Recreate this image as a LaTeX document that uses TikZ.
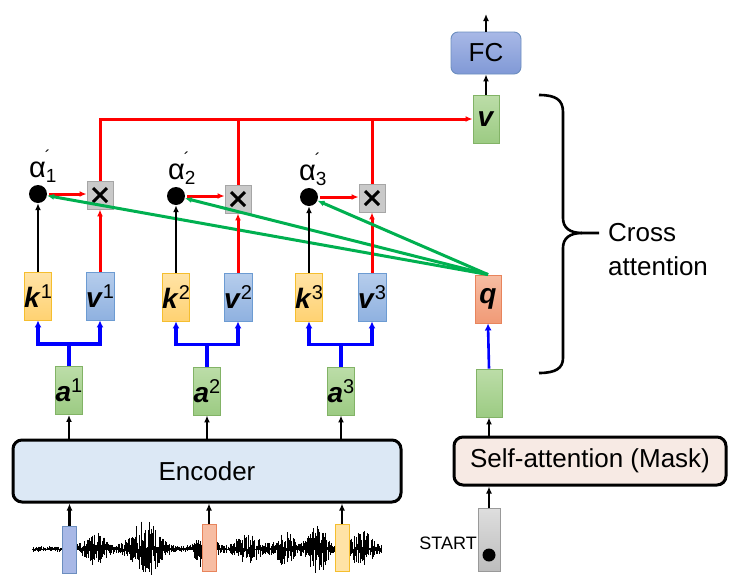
\documentclass[tikz,border=0pt]{standalone}
\usepackage{fontspec}
\setmainfont{Liberation Sans}
\usetikzlibrary{arrows.meta,positioning,calc}
\definecolor{ktop}{HTML}{FFE3A6}\definecolor{kbot}{HTML}{FFD272}\definecolor{kline}{HTML}{F5BE2E}
\definecolor{vtop}{HTML}{B6CDEC}\definecolor{vbot}{HTML}{8FB1E0}\definecolor{vline}{HTML}{6C9BD2}
\definecolor{gtop}{HTML}{BCDDA8}\definecolor{gbot}{HTML}{9CCB83}\definecolor{gline}{HTML}{82B366}
\definecolor{qtop}{HTML}{F7BDA3}\definecolor{qbot}{HTML}{F19A76}\definecolor{qline}{HTML}{E8845C}
\definecolor{ftop}{HTML}{A8B8E6}\definecolor{fbot}{HTML}{8099D6}\definecolor{fline}{HTML}{6C8EBF}
\definecolor{encfill}{HTML}{DCE8F5}\definecolor{safill}{HTML}{F7EAE4}
\definecolor{mulfill}{HTML}{C9C9C9}\definecolor{mulline}{HTML}{A6A6A6}
\definecolor{attgreen}{HTML}{00B050}
\newcommand{\vecsup}[2]{{\fontsize{28}{30}\selectfont\textbf{\textit{#1}}}\raisebox{9pt}{\fontsize{20}{20}\selectfont#2}}
\newcommand{\alab}[1]{{\fontsize{29}{29}\selectfont α}\rlap{\raisebox{15pt}{\fontsize{17}{17}\selectfont\kern-1pt´}}\raisebox{-5pt}{\fontsize{19}{19}\selectfont#1}}

\begin{document}
\begin{tikzpicture}[x=1pt,y=-1pt,font=\fontsize{26}{30}\selectfont,
vec/.style={draw,inner sep=0,minimum width=26pt,minimum height=48pt,line width=.9pt},
kbox/.style={vec,draw=kline,top color=ktop,bottom color=kbot},
vbox/.style={vec,draw=vline,top color=vtop,bottom color=vbot},
abox/.style={vec,draw=gline,top color=gtop,bottom color=gbot},
qbox/.style={vec,draw=qline,top color=qtop,bottom color=qbot},
mul/.style={draw=mulline,fill=mulfill,minimum width=26pt,minimum height=28pt,inner sep=0,line width=.9pt,
  path picture={\draw[black,line width=3pt]
    ($(path picture bounding box.center)+(-7,-7)$)--($(path picture bounding box.center)+(7,7)$)
    ($(path picture bounding box.center)+(-7,7)$)--($(path picture bounding box.center)+(7,-7)$);}},
dot/.style={circle,fill=black,inner sep=0,minimum size=18pt},
block/.style={draw,line width=3pt,rounded corners=9pt,inner sep=0},
wbar/.style={draw,line width=.9pt,inner sep=0,minimum width=14pt,minimum height=47pt},
arr/.style={-{Latex[length=7pt,width=6pt]},line width=2.7pt},
rarr/.style={arr,red,line width=3pt},
garr/.style={arr,attgreen,line width=3pt},
fork/.style={-{Latex[length=7pt,width=7pt]},line width=3.4pt,blue}]
\useasboundingbox (0,0) rectangle (740,584);

% waveform
\pgfmathsetseed{11}
\foreach \i in {0,...,520}{
  \pgfmathsetmacro{\xx}{33+0.67*\i}
  \pgfmathsetmacro{\env}{3+14*exp(-((\xx-95)/13)^2)+27*exp(-((\xx-145)/16)^2)+20*exp(-((\xx-205)/10)^2)
    +13*exp(-((\xx-248)/14)^2)+15*exp(-((\xx-285)/11)^2)+26*exp(-((\xx-318)/11)^2)+17*exp(-((\xx-362)/12)^2)}
  \pgfmathsetmacro{\up}{\env*rnd}
  \pgfmathsetmacro{\dn}{\env*rnd}
  \draw[line width=.6pt] (\xx,549-\up)--(\xx,549+\dn);
}
\draw[line width=.9pt] (32,549)--(382,549);
\node[wbar,draw=fline,fill=ftop] (w1) at (69.5,549.5) {};
\node[wbar,draw=qline,fill=qtop] (w2) at (209,547.5) {};
\node[wbar,draw=kline,fill=ktop] (w3) at (342,548) {};

% encoder side
\node[block,fill=encfill,minimum width=388pt,minimum height=62pt] (enc) at (207,471) {Encoder};
\node[abox] (a1) at (69,390.5) {\vecsup{a}{1}};
\node[abox] (a2) at (207,391) {\vecsup{a}{2}};
\node[abox] (a3) at (341,391) {\vecsup{a}{3}};
\node[kbox] (k1) at (38,296) {\vecsup{k}{1}};
\node[vbox] (v1) at (100,296) {\vecsup{v}{1}};
\node[kbox] (k2) at (176,297) {\vecsup{k}{2}};
\node[vbox] (v2) at (238,297) {\vecsup{v}{2}};
\node[kbox] (k3) at (309,297) {\vecsup{k}{3}};
\node[vbox] (v3) at (372,297) {\vecsup{v}{3}};
\node[dot] (d1) at (38,194) {};
\node[dot] (d2) at (176,196) {};
\node[dot] (d3) at (309,197) {};
\node[anchor=base west,inner sep=0] (l1) at (29,177) {\alab{1}};
\node[anchor=base west,inner sep=0] (l2) at (168,179) {\alab{2}};
\node[anchor=base west,inner sep=0] (l3) at (299,180) {\alab{3}};
\node[mul] (x1) at (100,195) {};
\node[mul] (x2) at (238,199) {};
\node[mul] (x3) at (372,198) {};

% decoder side
\node[draw=black!40,inner sep=0,minimum width=22pt,minimum height=63pt,top color=black!13,bottom color=black!26,line width=.9pt] (start) at (489,540) {};
\node[dot,minimum size=13pt] (sdot) at (489,555) {};
\node[anchor=east,font=\fontsize{18}{20}\selectfont,inner sep=1pt] (slab) at (478,543) {START};
\node[block,fill=safill,minimum width=272pt,minimum height=48pt] (sa) at (590,461) {Self-attention (Mask)};
\node[abox] (g) at (489,393) {};
\node[qbox] (q) at (488,299) {{\fontsize{28}{30}\selectfont\textbf{\textit{q}}}};
\node[abox] (vout) at (486,119) {{\fontsize{28}{30}\selectfont\textbf{\textit{v}}}};
\node[draw=fline,line width=.9pt,rounded corners=7pt,top color=ftop,bottom color=fbot,minimum width=70pt,minimum height=42pt,inner sep=0] (fc) at (486,53) {FC};
\coordinate (out) at (486,14);
\node[anchor=west,align=left,font=\fontsize{26}{34}\selectfont,inner sep=0] (ca) at (608,250) {Cross\\attention};

% brace
\draw[line width=2.6pt] (539,95) .. controls (556,95) and (563,100) .. (563,112) -- (563,218)
  .. controls (563,228) and (570,233) .. (582,233) -- (599,233);
\draw[line width=2.6pt] (582,233) .. controls (570,233) and (563,238) .. (563,248) -- (563,358)
  .. controls (563,368) and (556,373) .. (539,373);

% arrows
\draw[arr](w1.north)--(w1.north|-enc.south);\draw[arr](w2.north)--(w2.north|-enc.south);\draw[arr](w3.north)--(w3.north|-enc.south);
\draw[arr](a1.south|-enc.north)--(a1.south);\draw[arr](a2.south|-enc.north)--(a2.south);\draw[arr](a3.south|-enc.north)--(a3.south);
\foreach \n in {1,2,3}{
  \coordinate (f\n) at ([yshift=22pt]a\n.north);
  \draw[fork](a\n.north)--(f\n)-|(k\n.south);\draw[fork](f\n)-|(v\n.south);
  \draw[arr](k\n.north)--(d\n.south);
  \draw[rarr](v\n.north)--(x\n.south);
  \draw[rarr]([xshift=2pt]d\n.east)--(d\n.east-|x\n.west);
  \draw[garr](q.north)--(d\n);
}
\draw[rarr](x1.north)|-(vout.west);
\draw[red,line width=3pt](x2.north)--(x2.north|-vout.west);\draw[red,line width=3pt](x3.north)--(x3.north|-vout.west);
\draw[arr](start.north)--(start.north|-sa.south);
\draw[arr](sa.north-|g.south)--(g.south);
\draw[fork,line width=2.6pt](g.north)--(q.south);
\draw[arr](vout.north)--(fc.south);
\draw[arr](fc.north)--(out);
\end{tikzpicture}
\end{document}
